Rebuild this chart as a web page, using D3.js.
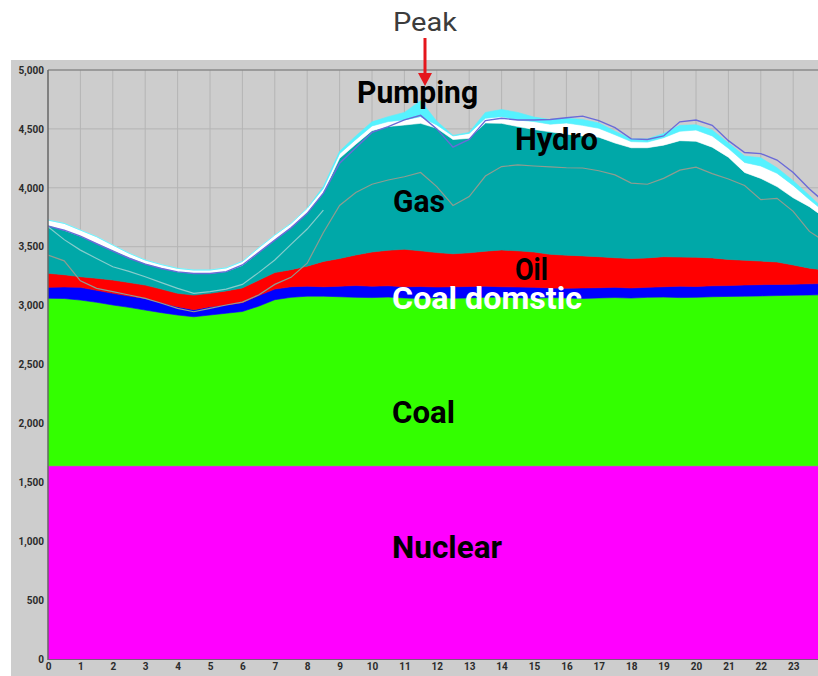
<!DOCTYPE html>
<html lang="en">
<head>
<meta charset="UTF-8">
<title>Daily generation mix</title>
<script src="https://cdn.jsdelivr.net/npm/d3@7"></script>
<style>
  body { margin: 0; background: #fff; }
  svg { display: block; }
</style>
</head>
<body>
<div id="chart"></div>
<script>
// half-hour samples, MW
const hours = [0, 0.5, 1, 1.5, 2, 2.5, 3, 3.5, 4, 4.5, 5, 5.5, 6, 6.5, 7, 7.5, 8, 8.5, 9, 9.5,
  10, 10.5, 11, 11.5, 12, 12.5, 13, 13.5, 14, 14.5, 15, 15.5, 16, 16.5, 17, 17.5, 18, 18.5, 19, 19.5,
  20, 20.5, 21, 21.5, 22, 22.5, 23, 23.5, 24];

const nuclear = [1640, 1640, 1640, 1640, 1640, 1640, 1640, 1640, 1640, 1640, 1640, 1640, 1640, 1640, 1640, 1640,
  1640, 1640, 1640, 1640, 1640, 1640, 1640, 1640, 1640, 1640, 1640, 1640, 1640, 1640, 1640, 1640,
  1640, 1640, 1640, 1640, 1640, 1640, 1640, 1640, 1640, 1640, 1640, 1640, 1640, 1640, 1640, 1640, 1640];
const coal = [1422, 1420, 1407, 1388, 1365, 1345, 1322, 1300, 1280, 1265, 1280, 1295, 1310, 1355, 1410, 1430,
  1440, 1440, 1435, 1430, 1428, 1432, 1425, 1420, 1428, 1422, 1425, 1430, 1432, 1426, 1422, 1428,
  1424, 1420, 1425, 1428, 1424, 1430, 1432, 1428, 1430, 1435, 1438, 1440, 1442, 1445, 1448, 1450, 1452];
const coalDomestic = [93, 98, 108, 102, 99, 97, 99, 85, 70, 60, 70, 70, 75, 90, 90, 90,
  85, 80, 90, 100, 97, 96, 95, 102, 90, 98, 97, 95, 88, 92, 93, 82,
  84, 90, 87, 87, 86, 85, 88, 97, 92, 93, 92, 95, 96, 95, 94, 95, 96];
const oil = [119, 104, 90, 102, 113, 114, 113, 115, 114, 124, 114, 120, 125, 130, 140, 145,
  170, 215, 235, 260, 290, 302, 318, 303, 292, 280, 286, 297, 312, 307, 300, 285,
  280, 272, 263, 251, 250, 250, 255, 247, 248, 237, 222, 210, 200, 190, 163, 133, 112];
const gas = [410, 378, 345, 298, 254, 214, 184, 180, 184, 186, 170, 165, 192, 235, 280, 355,
  455, 585, 850, 940, 1030, 1050, 1055, 1082, 1055, 970, 972, 1088, 1075, 1055, 1040, 1040,
  1027, 1018, 1015, 974, 940, 935, 947, 988, 985, 940, 868, 745, 702, 640, 570, 522, 440];
const hydro = [42, 58, 51, 55, 43, 35, 29, 28, 28, 27, 28, 30, 33, 40, 39, 38,
  36, 35, 40, 40, 40, 42, 43, 57, 28, 30, 42, 40, 57, 56, 67, 65,
  95, 90, 75, 70, 52, 48, 63, 80, 95, 95, 75, 85, 105, 113, 105, 60, 50];
const pumping = [0, 0, 0, 0, 0, 0, 0, 0, 0, 0, 0, 0, 0, 0, 0, 0,
  0, 15, 20, 30, 35, 42, 64, 136, 32, 5, 8, 50, 61, 64, 38, 40,
  40, 50, 45, 30, 23, 27, 35, 50, 45, 50, 45, 55, 70, 47, 40, 35, 15];

// overlaid lines
const demand = [3675, 3640, 3590, 3525, 3462, 3402, 3352, 3315, 3286, 3272, 3272, 3288, 3345, 3450, 3556, 3660,
  3783, 3955, 4208, 4340, 4470, 4520, 4576, 4615, 4500, 4345, 4410, 4570, 4590, 4576, 4576, 4580,
  4595, 4608, 4570, 4510, 4415, 4410, 4440, 4560, 4575, 4530, 4400, 4300, 4290, 4236, 4130, 3990, 3870];
const grayLine = [3429, 3380, 3210, 3146, 3118, 3090, 3061, 3020, 2976, 2948, 2976, 3005, 3030, 3090, 3180, 3240,
  3360, 3620, 3850, 3960, 4030, 4066, 4094, 4130, 4010, 3850, 3925, 4100, 4180, 4194, 4185, 4178,
  4170, 4168, 4145, 4110, 4040, 4030, 4080, 4150, 4175, 4120, 4075, 4020, 3900, 3910, 3800, 3630, 3540];
const lightLine = [3670, 3560, 3471, 3400, 3330, 3290, 3245, 3195, 3146, 3104, 3118, 3140, 3180, 3280, 3387, 3520,
  3650, 3811, null, null, null, null, null, null, null, null, null, null, null, null, null, null,
  null, null, null, null, null, null, null, null, null, null, null, null, null, null, null, null, null];

const yTicks = [0, 500, 1000, 1500, 2000, 2500, 3000, 3500, 4000, 4500, 5000];
const xTicks = [0, 1, 2, 3, 4, 5, 6, 7, 8, 9, 10, 11, 12, 13, 14, 15, 16, 17, 18, 19, 20, 21, 22, 23];

const keys = ["nuclear", "coal", "coalDomestic", "oil", "gas", "hydro", "pumping"];
const colors = {
  nuclear: "#ff00ff", coal: "#33ff00", coalDomestic: "#0000ff", oil: "#ff0000",
  gas: "#00a8a8", hydro: "#ffffff", pumping: "#55f2ff"
};

const width = 818, height = 676;
const plotLeft = 48, plotTop = 70, plotBottom = 659;

const x = d3.scaleLinear().domain([0, 24]).range([plotLeft, plotLeft + 24 * 32.4]);
const y = d3.scaleLinear().domain([0, 5000]).range([plotBottom, plotTop]);

const rows = hours.map((h, i) => ({
  hour: h, nuclear: nuclear[i], coal: coal[i], coalDomestic: coalDomestic[i], oil: oil[i],
  gas: gas[i], hydro: hydro[i], pumping: pumping[i]
}));
const series = d3.stack().keys(keys)(rows);

const svg = d3.select("#chart").append("svg")
  .attr("width", width)
  .attr("height", height);

// grey panel
svg.append("rect")
  .attr("x", 11).attr("y", 60)
  .attr("width", width - 11).attr("height", height - 60)
  .attr("fill", "#cdcdcd");

svg.append("clipPath").attr("id", "plot")
  .append("rect")
  .attr("x", plotLeft).attr("y", plotTop)
  .attr("width", width - plotLeft).attr("height", plotBottom - plotTop);

// grid
const grid = svg.append("g").attr("stroke", "#b4b4b4").attr("stroke-width", 1);
grid.selectAll(".gx").data(xTicks.slice(1)).join("line")
  .attr("x1", d => x(d)).attr("x2", d => x(d))
  .attr("y1", plotTop).attr("y2", plotBottom);
grid.selectAll(".gy").data(yTicks.slice(1, -1)).join("line")
  .attr("x1", plotLeft).attr("x2", width)
  .attr("y1", d => y(d)).attr("y2", d => y(d));

const plot = svg.append("g").attr("clip-path", "url(#plot)");

const area = d3.area()
  .x(d => x(d.data.hour))
  .y0(d => y(d[0]))
  .y1(d => y(d[1]));

plot.selectAll(".layer").data(series).join("path")
  .attr("class", "layer")
  .attr("fill", d => colors[d.key])
  .attr("stroke", d => colors[d.key])
  .attr("stroke-width", 0.6)
  .attr("d", area);

const line = d3.line()
  .defined(d => d[1] != null)
  .x(d => x(d[0]))
  .y(d => y(d[1]));

plot.append("path")
  .datum(hours.map((h, i) => [h, lightLine[i]]))
  .attr("fill", "none").attr("stroke", "#86cccc").attr("stroke-width", 1.2)
  .attr("d", line);
plot.append("path")
  .datum(hours.map((h, i) => [h, grayLine[i]]))
  .attr("fill", "none").attr("stroke", "#8f9c90").attr("stroke-width", 1.2)
  .attr("d", line);
plot.append("path")
  .datum(hours.map((h, i) => [h, demand[i]]))
  .attr("fill", "none").attr("stroke", "#6a6ad8").attr("stroke-width", 1.4)
  .attr("d", line);

// frame
svg.append("line").attr("x1", plotLeft).attr("x2", width).attr("y1", plotTop).attr("y2", plotTop)
  .attr("stroke", "#8a8a8a").attr("stroke-width", 1.5);
svg.append("line").attr("x1", plotLeft).attr("x2", plotLeft).attr("y1", plotTop).attr("y2", plotBottom + 1)
  .attr("stroke", "#666").attr("stroke-width", 1.5);
svg.append("line").attr("x1", plotLeft).attr("x2", width).attr("y1", plotBottom + 0.5).attr("y2", plotBottom + 0.5)
  .attr("stroke", "#7a5a7a").attr("stroke-width", 1);

// axes
const yAxis = svg.append("g")
  .attr("transform", `translate(${plotLeft},0)`)
  .call(d3.axisLeft(y).tickValues(yTicks).tickSize(0).tickPadding(4).tickFormat(d3.format(",")));
const xAxis = svg.append("g")
  .attr("transform", `translate(0,${plotBottom})`)
  .call(d3.axisBottom(x).tickValues(xTicks).tickSize(0).tickPadding(4).tickFormat(d3.format("d")));
[yAxis, xAxis].forEach(g => {
  g.select(".domain").remove();
  g.selectAll("text")
    .attr("fill", "#2b2b2b")
    .style("font-family", "Roboto, sans-serif")
    .style("font-weight", "700")
    .style("font-size", "10px");
});

// in-chart labels
const labelFont = "Roboto, 'Liberation Sans', sans-serif";
function label(text, hour, value, len, fill) {
  svg.append("text")
    .attr("x", x(hour)).attr("y", y(value))
    .attr("textLength", len).attr("lengthAdjust", "spacingAndGlyphs")
    .style("font-family", labelFont)
    .style("font-weight", "700")
    .style("font-size", "31px")
    .attr("fill", fill || "#000")
    .text(text);
}
label("Pumping", 9.54, 4720, 121);
label("Hydro", 14.41, 4320, 83);
label("Gas", 10.65, 3795, 52);
label("Oil", 14.41, 3215, 33);
label("Coal domstic", 10.62, 2975, 190, "#fff");
label("Coal", 10.62, 2005, 63);
label("Nuclear", 10.62, 857, 110);

// peak marker
svg.append("text")
  .attr("x", 425).attr("y", 31)
  .attr("text-anchor", "middle")
  .attr("textLength", 64).attr("lengthAdjust", "spacingAndGlyphs")
  .style("font-family", labelFont)
  .style("font-size", "25px")
  .attr("fill", "#3c3c3c")
  .text("Peak");
svg.append("line")
  .attr("x1", 425).attr("x2", 425).attr("y1", 38).attr("y2", 74)
  .attr("stroke", "#e5161c").attr("stroke-width", 3);
svg.append("path")
  .attr("d", "M418,73 L432,73 L425,86 Z")
  .attr("fill", "#e5161c");
</script>
</body>
</html>
